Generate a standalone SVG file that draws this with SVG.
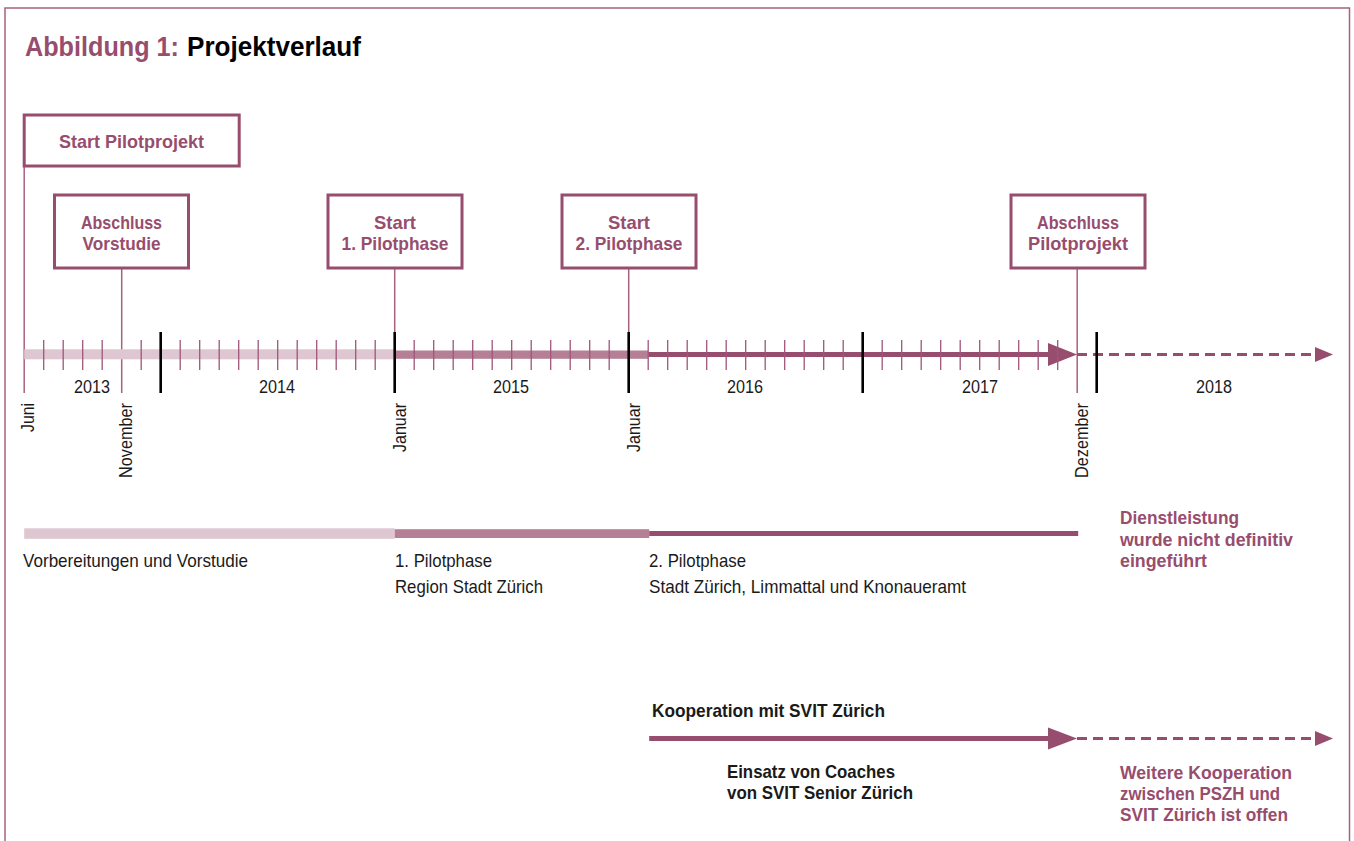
<svg xmlns="http://www.w3.org/2000/svg" width="1354" height="841" viewBox="0 0 1354 841">
<style>
text{font-family:"Liberation Sans Narrow","Liberation Sans",Arial,sans-serif;}
.t{font-size:18.5px;fill:#1a1a1a}
.y{font-size:18px;fill:#1a1a1a;text-anchor:middle}
.b{font-weight:bold}
.m{fill:#974d6d}
.bx{font-size:19px;font-weight:bold;fill:#974d6d;text-anchor:middle}
.box{fill:#fff;stroke:#974d6d;stroke-width:3}
.ml{stroke:#a8617f;stroke-width:1.5;fill:none}
.tick{stroke:#a0557a;stroke-width:1.3;fill:none}
.yr{stroke:#000;stroke-width:2.6}
.mo{font-size:18px;fill:#1a1a1a;text-anchor:end}
.dash{stroke:#974d6d;stroke-width:3;stroke-dasharray:10 6;fill:none}
.ah{fill:#974d6d}
</style>
<rect width="1354" height="841" fill="#fff"/>
<path d="M5 841V8H1349.5V841" fill="none" stroke="#a8617f" stroke-width="1.5"/>

<g id="title">
<text x="25" y="56" font-size="27.5" class="b m" textLength="154" lengthAdjust="spacingAndGlyphs">Abbildung 1:</text>
<text x="187" y="56" font-size="27.5" class="b" fill="#000" textLength="174" lengthAdjust="spacingAndGlyphs">Projektverlauf</text>
</g>

<g id="connectors">
<path class="ml" d="M24.2 166V393M121.7 269V393M394.7 269V393M628.7 269V393M1077.2 269V393"/>
<rect x="24.2" y="349.3" width="370.5" height="10" fill="#dec7d0"/>
<rect x="394.7" y="350.5" width="253.5" height="8.3" fill="#b58096"/>
<rect x="648.2" y="352" width="402" height="5" fill="#974d6d"/>
<polygon class="ah" points="1048,343 1077,354.5 1048,366"/>
<path class="dash" d="M1077 354.5H1316"/>
<polygon class="ah" points="1315,347 1333,354.5 1315,362"/>
<path class="tick" d="M43.7 340V370M63.2 340V370M82.7 340V370M102.2 340V370M141.2 340V370M180.2 340V370M199.7 340V370M219.2 340V370M238.7 340V370M258.2 340V370M277.7 340V370M297.2 340V370M316.7 340V370M336.2 340V370M355.7 340V370M375.2 340V370M414.2 340V370M433.7 340V370M453.2 340V370M472.7 340V370M492.2 340V370M511.7 340V370M531.2 340V370M550.7 340V370M570.2 340V370M589.7 340V370M609.2 340V370M648.2 340V370M667.7 340V370M687.2 340V370M706.7 340V370M726.2 340V370M745.7 340V370M765.2 340V370M784.7 340V370M804.2 340V370M823.7 340V370M843.2 340V370M882.2 340V370M901.7 340V370M921.2 340V370M940.7 340V370M960.2 340V370M979.7 340V370M999.2 340V370M1018.7 340V370M1038.2 340V370M1057.7 340V370"/>
<path class="yr" d="M160.7 332V393M394.7 332V393M628.7 332V393M862.7 332V393M1096.7 332V393"/>
<rect x="24.2" y="528.3" width="370.5" height="10.5" fill="#dec7d0"/>
<rect x="394.7" y="529.2" width="254.5" height="8.8" fill="#b58096"/>
<rect x="649.2" y="531" width="429" height="5" fill="#974d6d"/>
<rect x="649.2" y="736" width="401" height="5" fill="#974d6d"/>
<polygon class="ah" points="1048,727.5 1077,738.5 1048,749.5"/>
<path class="dash" d="M1077 738.5H1316"/>
<polygon class="ah" points="1315,731 1333,738.5 1315,746"/>
</g>

<g id="node-start-pilotprojekt">
<rect class="box" x="24.2" y="115" width="215" height="51"/>
<text class="bx" x="131.5" y="148" textLength="145" lengthAdjust="spacingAndGlyphs">Start Pilotprojekt</text>
</g>
<g id="node-abschluss-vorstudie">
<rect class="box" x="54.5" y="195" width="134" height="73"/>
<text class="bx" x="121.5" y="229" textLength="81" lengthAdjust="spacingAndGlyphs">Abschluss</text>
<text class="bx" x="121.5" y="250" textLength="78" lengthAdjust="spacingAndGlyphs">Vorstudie</text>
</g>
<g id="node-start-1-pilotphase">
<rect class="box" x="328" y="195" width="134" height="73"/>
<text class="bx" x="395" y="229" textLength="42" lengthAdjust="spacingAndGlyphs">Start</text>
<text class="bx" x="395" y="250" textLength="107" lengthAdjust="spacingAndGlyphs">1. Pilotphase</text>
</g>
<g id="node-start-2-pilotphase">
<rect class="box" x="562" y="195" width="134" height="73"/>
<text class="bx" x="629" y="229" textLength="42" lengthAdjust="spacingAndGlyphs">Start</text>
<text class="bx" x="629" y="250" textLength="107" lengthAdjust="spacingAndGlyphs">2. Pilotphase</text>
</g>
<g id="node-abschluss-pilotprojekt">
<rect class="box" x="1011" y="195" width="134" height="73"/>
<text class="bx" x="1078" y="229" textLength="82" lengthAdjust="spacingAndGlyphs">Abschluss</text>
<text class="bx" x="1078" y="250" textLength="100" lengthAdjust="spacingAndGlyphs">Pilotprojekt</text>
</g>

<g id="years">
<text class="y" x="92" y="393" textLength="36" lengthAdjust="spacingAndGlyphs">2013</text>
<text class="y" x="277" y="393" textLength="36" lengthAdjust="spacingAndGlyphs">2014</text>
<text class="y" x="511" y="393" textLength="36" lengthAdjust="spacingAndGlyphs">2015</text>
<text class="y" x="745" y="393" textLength="36" lengthAdjust="spacingAndGlyphs">2016</text>
<text class="y" x="980" y="393" textLength="36" lengthAdjust="spacingAndGlyphs">2017</text>
<text class="y" x="1214" y="393" textLength="36" lengthAdjust="spacingAndGlyphs">2018</text>
</g>

<g id="months">
<text class="mo" transform="translate(33.5 403) rotate(-90)" textLength="29" lengthAdjust="spacingAndGlyphs">Juni</text>
<text class="mo" transform="translate(132 403) rotate(-90)" textLength="75" lengthAdjust="spacingAndGlyphs">November</text>
<text class="mo" transform="translate(405.5 403) rotate(-90)" textLength="49" lengthAdjust="spacingAndGlyphs">Januar</text>
<text class="mo" transform="translate(639.5 403) rotate(-90)" textLength="49" lengthAdjust="spacingAndGlyphs">Januar</text>
<text class="mo" transform="translate(1088 403) rotate(-90)" textLength="75" lengthAdjust="spacingAndGlyphs">Dezember</text>
</g>

<g id="phases">
<text class="t" x="23" y="566.5" textLength="225" lengthAdjust="spacingAndGlyphs">Vorbereitungen und Vorstudie</text>
<text class="t" x="395" y="566.5" textLength="97" lengthAdjust="spacingAndGlyphs">1. Pilotphase</text>
<text class="t" x="395" y="593" textLength="148" lengthAdjust="spacingAndGlyphs">Region Stadt Zürich</text>
<text class="t" x="649" y="566.5" textLength="97" lengthAdjust="spacingAndGlyphs">2. Pilotphase</text>
<text class="t" x="649" y="593" textLength="317" lengthAdjust="spacingAndGlyphs">Stadt Zürich, Limmattal und Knonaueramt</text>
<text class="t b m" x="1120" y="524" textLength="119" lengthAdjust="spacingAndGlyphs">Dienstleistung</text>
<text class="t b m" x="1120" y="545.5" textLength="173" lengthAdjust="spacingAndGlyphs">wurde nicht definitiv</text>
<text class="t b m" x="1120" y="567" textLength="87" lengthAdjust="spacingAndGlyphs">eingeführt</text>
</g>

<g id="cooperation">
<text class="t b" x="652" y="717" fill="#000" textLength="233" lengthAdjust="spacingAndGlyphs">Kooperation mit SVIT Zürich</text>
<text class="t b" x="727" y="778" fill="#000" textLength="168" lengthAdjust="spacingAndGlyphs">Einsatz von Coaches</text>
<text class="t b" x="727" y="799" fill="#000" textLength="186" lengthAdjust="spacingAndGlyphs">von SVIT Senior Zürich</text>
<text class="t b m" x="1120" y="779" textLength="172" lengthAdjust="spacingAndGlyphs">Weitere Kooperation</text>
<text class="t b m" x="1120" y="800" textLength="160" lengthAdjust="spacingAndGlyphs">zwischen PSZH und</text>
<text class="t b m" x="1120" y="821" textLength="168" lengthAdjust="spacingAndGlyphs">SVIT Zürich ist offen</text>
</g>
</svg>
